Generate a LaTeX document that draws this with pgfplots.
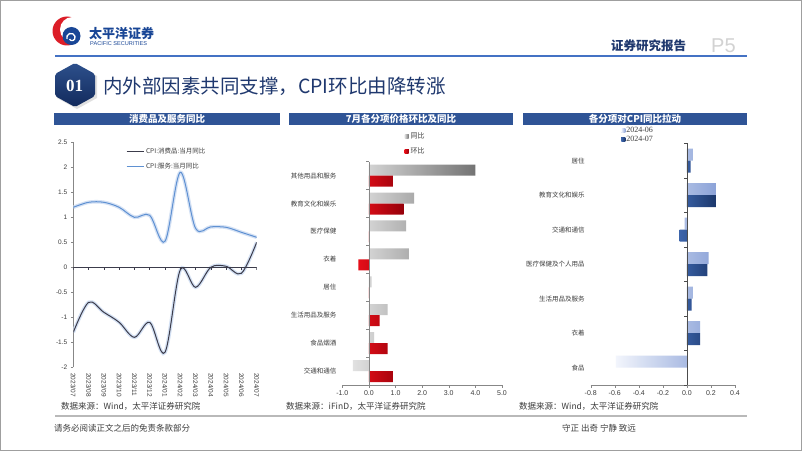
\documentclass[border=0pt]{standalone}
\usepackage{fontspec}
\setmainfont{Liberation Sans}
\newfontfamily\cjk{Noto Sans CJK SC}
\newfontfamily\tms{Liberation Serif}
\usepackage{pgfplots}
\pgfplotsset{compat=1.18}
\definecolor{hdr}{RGB}{47,84,150}
\definecolor{ttl}{RGB}{31,56,110}
\definecolor{topline}{RGB}{68,114,196}
\definecolor{goods}{RGB}{60,60,75}
\definecolor{serv}{RGB}{95,145,210}
\definecolor{glow}{RGB}{212,225,244}
\definecolor{txt}{RGB}{60,60,60}
\definecolor{axgray}{RGB}{135,135,135}
\definecolor{logored}{RGB}{220,30,40}
\definecolor{logoblue}{RGB}{25,70,150}
\definecolor{hexa}{RGB}{45,80,140}
\definecolor{hexb}{RGB}{18,42,92}
\definecolor{gryL}{RGB}{225,225,225}
\definecolor{gryR}{RGB}{115,115,115}
\definecolor{gryM}{RGB}{160,160,160}
\definecolor{redL}{RGB}{230,15,25}
\definecolor{redR}{RGB}{150,0,10}
\definecolor{redM}{RGB}{200,0,15}
\definecolor{lbL}{RGB}{242,245,252}
\definecolor{lbR}{RGB}{140,163,216}
\definecolor{lbM}{RGB}{190,203,232}
\definecolor{dbL}{RGB}{60,100,170}
\definecolor{dbR}{RGB}{28,56,108}
\definecolor{dbM}{RGB}{35,65,125}
\begin{document}
\begin{tikzpicture}
\begin{scope}[x=1pt,y=1pt]
\path[use as bounding box] (0,0) rectangle (802,451);
\fill[white] (0,0) rectangle (802,451);
\draw[gray!75, line width=1.4pt] (0.7,0.7) rectangle (801.3,450.3);
% logo
\fill[logored] (67,420) circle (14.5);
\fill[white] (72.5,421.5) circle (12.5);
\fill[logoblue] (71.5,415) circle (9);
\draw[white, line width=1.3pt] (67,412) arc (200:20:4.2) -- ++(0,-0.5) arc (20:-150:3);
\node[anchor=west, inner sep=0, text=logoblue] at (89,417.5) {\cjk\bfseries\fontsize{13}{13}\selectfont 太平洋证券};
\node[anchor=west, inner sep=0, text=logoblue] at (90,407.5) {\fontsize{5.6}{6}\selectfont PACIFIC\ SECURITIES};
\node[anchor=west, inner sep=0, text=ttl] at (611,405) {\cjk\bfseries\fontsize{12.5}{13}\selectfont 证券研究报告};
\node[anchor=west, inner sep=0, text=gray!35] at (711,405.5) {\fontsize{20}{20}\selectfont P5};
\draw[topline, line width=1.6pt] (55,395) -- (747,395);
% hexagon
\fill[black!12] (77,386) -- (97,375) -- (97,353) -- (77,342) -- (57,353) -- (57,375) -- cycle;
\shade[top color=hexa, bottom color=hexb, rounded corners=2pt]
  (75,388) -- (95,377) -- (95,355) -- (75,344) -- (55,355) -- (55,377) -- cycle;
\node[text=white, inner sep=0] at (74.5,365) {\tms\bfseries\fontsize{17}{17}\selectfont 01};
\node[anchor=west, inner sep=0, text=ttl] at (103,365) {\cjk\fontsize{19.5}{20}\selectfont 内外部因素共同支撑，CPI环比由降转涨};
% headers
\fill[hdr] (54,326.5) rectangle (280,338);
\fill[hdr] (289,326.5) rectangle (513,338);
\fill[hdr] (523,326.5) rectangle (747,338);
\node[text=white, inner sep=0] at (167,332.2) {\cjk\bfseries\fontsize{9.5}{10}\selectfont 消费品及服务同比};
\node[text=white, inner sep=0] at (401,332.2) {\cjk\bfseries\fontsize{9.5}{10}\selectfont 7月各分项价格环比及同比};
\node[text=white, inner sep=0] at (635,332.2) {\cjk\bfseries\fontsize{9.5}{10}\selectfont 各分项对CPI同比拉动};
% sources and footer
\node[anchor=west, inner sep=0, text=txt] at (61,45) {\cjk\fontsize{8.5}{9}\selectfont 数据来源：Wind，太平洋证券研究院};
\node[anchor=west, inner sep=0, text=txt] at (286,45) {\cjk\fontsize{8.5}{9}\selectfont 数据来源：iFinD，太平洋证券研究院};
\node[anchor=west, inner sep=0, text=txt] at (519,45) {\cjk\fontsize{8.5}{9}\selectfont 数据来源：Wind，太平洋证券研究院};
\draw[gray!55, line width=1.6pt] (55,35) -- (747,35);
\node[anchor=west, inner sep=0, text=txt] at (54,23) {\cjk\fontsize{8.5}{9}\selectfont 请务必阅读正文之后的免责条款部分};
\node[anchor=west, inner sep=0, text=txt] at (562,23) {\cjk\fontsize{8.5}{9}\selectfont 守正\ 出奇\ 宁静\ 致远};
\end{scope}

% ---------------- chart 1 ----------------
\begin{axis}[
  at={(73.3pt,83.7pt)}, anchor=south west, scale only axis,
  width=183.4pt, height=225pt,
  xmin=0, xmax=12, ymin=-2, ymax=2.5,
  axis lines=left, axis line style={-},
  x axis line style={draw=none}, y axis line style={axgray},
  xtick={0,...,12},
  xticklabels={2023/07,2023/08,2023/09,2023/10,2023/11,2023/12,2024/01,2024/02,2024/03,2024/04,2024/05,2024/06,2024/07},
  x tick style={draw=none},
  ytick={-2,-1.5,...,2.5},
  y tick style={axgray}, tick align=outside, major tick length=2.5pt,
  yticklabel style={/pgf/number format/.cd, fixed, assume math mode=true},
  tick label style={font=\fontsize{6.5}{7}\selectfont, text=txt},
  x tick label style={rotate=-90, anchor=west},
  legend style={draw=none, fill=none, at={(rel axis cs:0.27,0.995)}, anchor=north west,
    font=\cjk\fontsize{6.5}{7}\selectfont, text=txt, row sep=4.5pt},
  legend cell align=left,
]
\addplot[glow, line width=3.6pt, smooth, tension=0.55, forget plot] coordinates {
(0,-1.3)(1,-0.7)(2,-0.9)(3,-1.1)(4,-1.4)(5,-1.1)(6,-1.7)(7,-0.05)(8,-0.4)(9,0.0)(10,0.02)(11,-0.12)(12,0.5)};
\addplot[glow, line width=3.6pt, smooth, tension=0.55, forget plot] coordinates {
(0,1.2)(1,1.3)(2,1.3)(3,1.2)(4,1.0)(5,1.04)(6,0.52)(7,1.9)(8,0.78)(9,0.81)(10,0.8)(11,0.7)(12,0.6)};
\draw[goods, line width=0.8pt] (axis cs:0,0) -- (axis cs:12,0);
\pgfplotsinvokeforeach{0,...,12}{\draw[goods, line width=0.5pt] (axis cs:#1,0) -- ++(0pt,-2.5pt);}
\addplot[goods, line width=1pt, smooth, tension=0.55] coordinates {
(0,-1.3)(1,-0.7)(2,-0.9)(3,-1.1)(4,-1.4)(5,-1.1)(6,-1.7)(7,-0.05)(8,-0.4)(9,0.0)(10,0.02)(11,-0.12)(12,0.5)};
\addlegendentry{CPI:消费品:当月同比}
\addplot[serv, line width=1pt, smooth, tension=0.55] coordinates {
(0,1.2)(1,1.3)(2,1.3)(3,1.2)(4,1.0)(5,1.04)(6,0.52)(7,1.9)(8,0.78)(9,0.81)(10,0.8)(11,0.7)(12,0.6)};
\addlegendentry{CPI:服务:当月同比}
\end{axis}

% ---------------- chart 2 ----------------
\begin{axis}[
  at={(342.3pt,66pt)}, anchor=south west, scale only axis,
  width=159.7pt, height=223.3pt,
  xmin=-1, xmax=5, ymin=-0.5, ymax=7.5,
  xbar, bar width=11pt,
  axis lines=left, axis line style={-},
  y axis line style={draw=none}, x axis line style={axgray},
  ytick={0,...,7},
  yticklabels={交通和通信,食品烟酒,生活用品及服务,居住,衣着,医疗保健,教育文化和娱乐,其他用品和服务},
  y tick style={draw=none},
  xtick={-1,0,...,5}, x tick style={axgray}, tick align=outside, major tick length=2.5pt,
  xticklabel style={/pgf/number format/.cd, fixed, fixed zerofill, precision=1, assume math mode=true},
  tick label style={font=\fontsize{7}{8}\selectfont, text=txt},
  y tick label style={font=\cjk\fontsize{6.5}{7}\selectfont},
  legend style={draw=none, fill=none, at={(rel axis cs:0.37,1.15)}, anchor=north west,
    font=\cjk\fontsize{7}{8}\selectfont, text=txt, row sep=4pt},
  legend cell align=left,
]
\addplot[draw=none, left color=gryL, right color=gryR,
  bar shift=5.5pt,
  legend image code/.code={\fill[gryM] (0pt,-2pt) rectangle (4pt,2pt);}] coordinates {
(4.0,7)(1.7,6)(1.4,5)(1.5,4)(0.1,3)(0.7,2)(0.2,1)(-0.6,0)};
\addlegendentry{同比}
\addplot[draw=none, left color=redL, right color=redR,
  bar shift=-5.5pt,
  legend image code/.code={\fill[redM] (0pt,-2pt) rectangle (4pt,2pt);}] coordinates {
(0.9,7)(1.3,6)(0.0,5)(-0.4,4)(0.0,3)(0.4,2)(0.7,1)(0.9,0)};
\addlegendentry{环比}
\draw[axgray, line width=0.6pt] (axis cs:0,-0.5) -- (axis cs:0,7.5);
\pgfplotsinvokeforeach{0,...,8}{\draw[axgray, line width=0.5pt] (axis cs:0,#1-0.5) -- ++(-2.5pt,0pt);}
\end{axis}

% ---------------- chart 3 ----------------
\begin{axis}[
  at={(590.7pt,66pt)}, anchor=south west, scale only axis,
  width=144.3pt, height=241.7pt,
  xmin=-0.8, xmax=0.4, ymin=-0.5, ymax=6.5,
  xbar, bar width=12pt,
  axis lines=left, axis line style={-},
  y axis line style={draw=none}, x axis line style={axgray},
  ytick={0,...,6},
  yticklabels={食品,衣着,生活用品及服务,医疗保健及个人用品,交通和通信,教育文化和娱乐,居住},
  y tick style={draw=none},
  xtick={-0.8,-0.6,...,0.4}, x tick style={axgray}, tick align=outside, major tick length=2.5pt,
  xticklabel style={/pgf/number format/.cd, fixed, fixed zerofill, precision=1, assume math mode=true},
  tick label style={font=\fontsize{7}{8}\selectfont, text=txt},
  y tick label style={font=\cjk\fontsize{6.5}{7}\selectfont},
  legend style={draw=none, fill=none, at={(rel axis cs:0.19,1.08)}, anchor=north west,
    font=\tms\fontsize{8}{8}\selectfont, text=txt, row sep=-0.3pt, nodes={inner sep=1pt}},
  legend cell align=left,
]
\addplot[draw=none, left color=lbL, right color=lbR,
  bar shift=6pt,
  legend image code/.code={\fill[lbM] (0pt,-2pt) rectangle (4pt,2pt);}] coordinates {
(0.05,6)(0.24,5)(-0.02,4)(0.18,3)(0.05,2)(0.11,1)(-0.59,0)};
\addlegendentry{2024-06}
\addplot[draw=none, left color=dbL, right color=dbR,
  bar shift=-6pt,
  legend image code/.code={\fill[dbM] (0pt,-2pt) rectangle (4pt,2pt);}] coordinates {
(0.03,6)(0.24,5)(-0.06,4)(0.17,3)(0.04,2)(0.11,1)};
\addlegendentry{2024-07}
\draw[black!70, line width=0.6pt] (axis cs:0,-0.5) -- (axis cs:0,6.5);
\pgfplotsinvokeforeach{0,...,7}{\draw[black!70, line width=0.5pt] (axis cs:0,#1-0.5) -- ++(-2.5pt,0pt);}
\end{axis}
\end{tikzpicture}
\end{document}
